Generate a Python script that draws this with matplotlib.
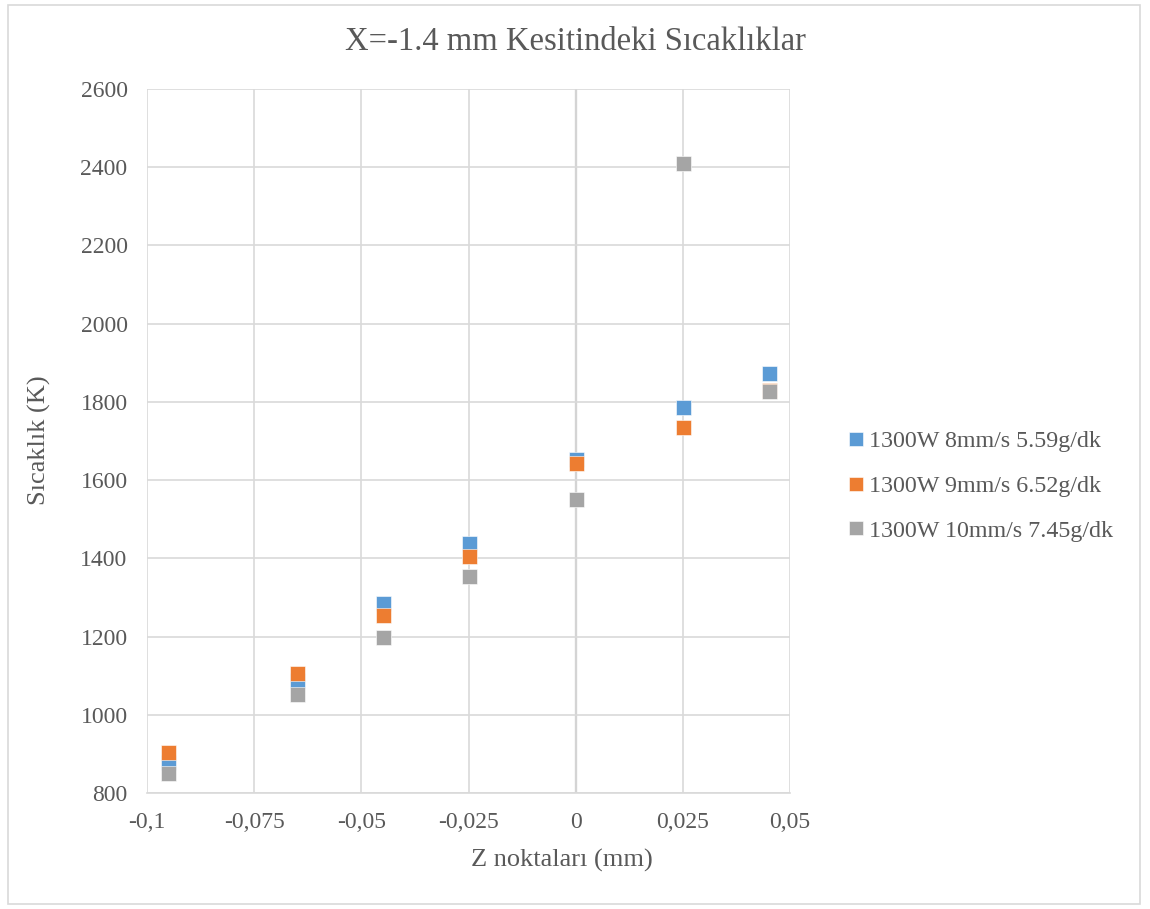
import matplotlib
matplotlib.use("Agg")
import matplotlib.pyplot as plt
from matplotlib.patches import Rectangle
from matplotlib.ticker import FuncFormatter

plt.rcParams["font.family"] = ["Liberation Serif", "DejaVu Serif"]

# Z noktalari (mm)
z = [-0.095, -0.065, -0.045, -0.025, 0.0, 0.025, 0.045]

labels = ["1300W 8mm/s 5.59g/dk", "1300W 9mm/s 6.52g/dk", "1300W 10mm/s 7.45g/dk"]
t_8mm = [880, 1090, 1287, 1438, 1655, 1788, 1875]
t_9mm = [905, 1107, 1255, 1405, 1643, 1737, 1830]
t_10mm = [851, 1052, 1200, 1354, 1552, 2410, 1828]
colors = ["#5B9BD5", "#ED7D31", "#A5A5A5"]

yticks = [800, 1000, 1200, 1400, 1600, 1800, 2000, 2200, 2400, 2600]
xticks = [-0.1, -0.075, -0.05, -0.025, 0, 0.025, 0.05]

txt = "#595959"
grid = "#d9d9d9"

W, H = 1150, 909
fig = plt.figure(figsize=(W / 100, H / 100), dpi=100)
fig.patches.append(Rectangle((0.007, 0.006), 0.984, 0.988, transform=fig.transFigure,
                             fill=False, edgecolor=grid, lw=1.2))
ax = fig.add_axes([147 / W, 1 - 793 / H, 643 / W, 704 / H])

for ys, c, lab in zip([t_8mm, t_9mm, t_10mm], colors, labels):
    ax.plot(z, ys, ls="none", marker="s", ms=10.8, color=c, mec="white", mew=0.4,
            label=lab, zorder=3)

ax.set_xlim(-0.1, 0.05)
ax.set_ylim(800, 2600)
ax.set_xticks(xticks)
ax.set_yticks(yticks)
ax.xaxis.set_major_formatter(FuncFormatter(lambda v, p: ("%g" % v).replace(".", ",")))
ax.grid(True, color=grid, lw=1.2, zorder=0)
ax.axvline(0, color="#bfbfbf", lw=1.6, zorder=1)
for s in ["top", "right", "left"]:
    ax.spines[s].set_visible(False)
ax.spines["bottom"].set_color(grid)
ax.spines["bottom"].set_linewidth(1.2)
ax.tick_params(length=0, colors=txt, labelsize=17)
ax.tick_params(axis="y", pad=14)
ax.tick_params(axis="x", pad=14)

fig.text(0.5, 1 - 42 / H, "X=-1.4 mm Kesitindeki Sıcaklıklar", color=txt, fontsize=23.5,
         ha="center", va="center")
fig.text(562 / W, 1 - 860 / H, "Z noktaları (mm)", color=txt, fontsize=19,
         ha="center", va="center")
fig.text(39 / W, 1 - 440 / H, "Sıcaklık (K)", color=txt, fontsize=19,
         ha="center", va="center", rotation=90)

leg = ax.legend(loc="center left", bbox_to_anchor=(838 / W, 1 - 486 / H),
                bbox_transform=fig.transFigure, frameon=False,
                fontsize=17.3, handlelength=0.7, handletextpad=0.2, labelspacing=0.95,
                markerscale=0.9, borderaxespad=0)
for t in leg.get_texts():
    t.set_color(txt)

fig.savefig("out.png", dpi=100)
